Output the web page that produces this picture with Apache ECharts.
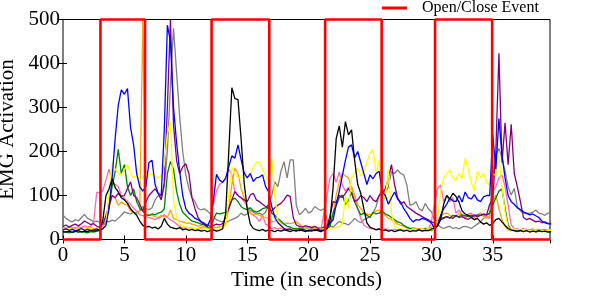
<!DOCTYPE html>
<html>
<head>
<meta charset="utf-8">
<script src="https://cdn.jsdelivr.net/npm/echarts@6/dist/echarts.min.js"></script>
<style>
html,body{margin:0;padding:0;background:#fff;}
#chart{width:598px;height:303px;}
</style>
</head>
<body>
<div id="chart"></div>
<script>
// ---- data (EMG activation sampled every 0.25 s, starting at 0 s) ----
const sampleStep = 0.25;
const xMax = 39.66;
const xTicks = [0, 5, 10, 15, 20, 25, 30, 35];
const yTicks = [0, 100, 200, 300, 400, 500];
const eventTimes = [3.05, 6.68, 12.1, 16.8, 21.35, 25.95, 30.3, 34.95];
const eventLevels = [0, 500];

const black = [18,17,19,16, 18,20,17,19, 18,21,19,20, 22,45,100,115, 138,118,108,95, 90,82,70,62, 55,42,32,28, 30,26,28,24, 30,48,35,28, 26,24,27,22,
 24,21,23,20, 22,19,21,18, 20,22,19,21, 24,60,200,345, 320,318,230,130, 70,35,25,22, 20,23,19,22, 20,18,21,19, 22,20,18,21, 19,22,20,18,
 21,19,22,20, 18,22,25,45, 120,230,258,210, 268,238,249,180, 125,105,70,38, 28,25,22,24, 20,22,19,21, 18,20,22,19, 21,18,20,19, 22,19,21,20,
 24,26,30,45, 80,100,92,105, 98,85,65,58, 55,50,45,48, 40,35,38,32, 36,45,48,40, 32,25,22,20, 19,21,18,20, 17,19,18,20, 18,19,17,18];
const blue = [22,24,21,23, 20,22,25,21, 23,20,22,24, 21,25,32,70, 140,230,305,340, 330,343,255,215, 150,120,110,120, 175,180,125,105, 100,250,487,450, 300,220,155,100,
 70,60,55,48, 45,40,35,30, 45,90,148,135, 130,140,165,190, 185,215,182,152, 140,150,132,140, 142,147,120,108, 75,50,38,32, 25,22,24,20, 22,20,23,21,
 19,22,20,23, 21,20,25,38, 45,80,110,145, 180,210,215,185, 200,175,150,125, 147,138,150,155, 108,100,80,95, 108,92,85,70, 60,48,40,45, 44,48,46,42,
 38,25,30,55, 70,80,94,88, 86,100,85,108, 95,92,102,90, 86,97,100,100, 238,160,275,192, 140,100,86,80, 72,68,63,60, 56,58,54,50, 42,38,36,35];
const yellow = [24,22,25,23, 21,24,22,26, 23,25,21,24, 25,28,35,110, 175,160,150,145, 160,170,150,140, 145,135,140,150, 148,150,145,140, 145,170,240,268, 90,50,35,30,
 28,26,27,24, 25,22,26,24, 23,25,22,26, 28,30,100,165, 150,140,140,148, 140,145,165,175, 175,160,145,131, 185,100,40,28, 25,22,24,21, 23,20,22,24,
 21,23,20,22, 24,22,26,23, 25,28,30,35, 100,70,140,150, 162,145,155,175, 196,205,150,180, 110,90,160,60, 30,26,24,22, 23,21,24,22, 20,23,22,24,
 22,25,45,110, 139,150,158,140, 135,150,138,185, 160,130,110,155, 140,150,130,124, 150,145,190,120, 63,28,22,24, 21,23,20,22, 19,21,22,20, 21,19,20,22];
const purple = [30,33,28,32, 35,31,36,42, 38,34,36,30, 28,35,55,78, 100,95,105,98, 100,116,131,100, 95,80,65,85, 100,108,115,105, 90,130,300,500, 260,180,150,165,
 172,150,95,70, 50,40,37,33, 30,32,35,33, 36,50,71,90, 109,100,95,90, 86,101,105,90, 86,80,75,70, 65,72,78,82, 90,101,98,50, 33,30,28,31,
 29,27,30,26, 25,28,30,55, 86,84,100,95, 105,116,105,86, 90,100,95,86, 100,90,86,100, 105,115,140,170, 125,95,80,86, 75,70,65,60, 56,52,48,45,
 40,38,42,45, 48,52,50,48, 55,50,52,48, 46,50,56,52, 55,58,56,80, 90,200,423,175, 265,170,262,150, 120,86,50,45, 48,44,40,42, 38,40,36,37];
const green = [16,18,15,17, 19,16,18,17, 15,18,17,19, 20,24,40,78, 120,155,205,150, 170,120,100,115, 86,71,65,56, 55,58,56,60, 62,70,150,177, 160,110,80,62,
 55,48,42,40, 38,35,33,28, 25,45,60,58, 60,62,70,90, 94,86,75,70, 68,72,65,62, 65,70,72,80, 60,55,48,42, 35,30,28,25, 24,26,23,25,
 22,24,21,23, 20,22,24,30, 60,78,95,101, 80,88,108,85, 70,56,60,55, 50,62,58,60, 65,58,55,50, 45,40,38,32, 28,25,24,22, 23,21,24,22,
 20,25,35,48, 50,52,48,55, 53,52,56,54, 52,55,53,56, 55,57,56,60, 78,95,110,115, 71,33,22,20, 18,20,19,21, 18,20,17,19, 20,18,19,17];
const gray = [55,48,43,40, 45,42,50,57, 48,45,40,42, 40,38,42,40, 44,42,48,55, 63,60,58,62, 60,65,75,70, 68,72,90,100, 95,120,200,350, 480,380,280,200,
 147,116,95,86, 71,67,70,65, 58,52,45,42, 40,38,42,45, 48,52,60,55, 58,67,62,58, 60,56,62,80, 100,131,120,155, 177,140,181,181, 78,56,62,71,
 60,64,75,70, 66,70,45,30, 28,35,41,38, 36,33,40,48, 42,38,45,48, 52,60,75,100, 116,105,120,155, 150,158,150,147, 124,78,80,86, 70,65,82,70,
 63,45,35,28, 25,28,30,25, 27,24,28,30, 28,25,30,35, 40,48,55,60, 140,192,207,185, 155,120,101,116, 75,65,60,58, 60,62,67,60, 58,55,60,62];
const pink = [28,25,30,27, 26,29,27,31, 28,30,40,108, 105,112,135,160, 130,125,120,100, 95,86,80,71, 65,56,54,52, 50,48,46,48, 52,56,50,45, 41,35,30,25,
 28,26,27,25, 24,27,25,30, 40,80,110,125, 130,139,160,147, 109,100,95,86, 75,60,55,50, 41,55,35,30, 25,27,24,26, 23,25,22,24, 26,23,25,22,
 24,22,25,23, 22,60,101,140, 150,130,154,124, 110,118,120,100, 71,48,33,28, 25,24,23,25, 22,24,23,21, 23,22,24,22, 21,23,22,24, 22,21,23,22,
 40,80,116,124, 86,100,86,95, 60,67,55,52, 58,60,50,56, 60,55,52,48, 109,120,140,147, 120,78,33,25, 24,22,25,23, 22,24,21,23, 22,23,21,22];
const orange = [26,24,27,25, 28,25,23,26, 24,27,25,23, 28,30,45,71, 100,95,78,85, 80,78,65,62, 58,65,500,56, 56,55,52,50, 55,52,50,67, 48,45,42,40,
 37,38,35,33, 30,32,28,25, 26,28,27,29, 30,35,70,124, 162,150,116,95, 75,60,56,58, 55,52,50,48, 40,42,45,38, 35,37,36,38, 40,35,30,28,
 27,29,26,28, 25,28,30,40, 60,101,131,150, 145,140,115,100, 80,70,60,58, 56,60,65,67, 60,55,48,45, 40,35,32,30, 26,25,27,24, 25,23,26,24,
 28,35,45,52, 58,60,55,50, 52,60,55,48, 55,56,45,50, 60,52,48,56, 86,101,70,45, 30,22,20,21, 19,20,18,21, 20,19,21,18, 19,20,18,19];

// ---- build chart ----
const FONT = 'Liberation Serif';
function pairs(arr) { return arr.map((v, i) => [i * sampleStep, v]); }
function eventSteps() {
  const pts = [[0, eventLevels[0]]];
  let lvl = 0;
  eventTimes.forEach(t => {
    pts.push([t, eventLevels[lvl]]);
    lvl = 1 - lvl;
    pts.push([t, eventLevels[lvl]]);
  });
  pts.push([xMax, eventLevels[lvl]]);
  return pts;
}
const emg = [
  ['gray', gray, '#808080'],
  ['pink', pink, '#ff69b4'],
  ['orange', orange, '#ffa500'],
  ['green', green, '#008000'],
  ['purple', purple, '#800080'],
  ['yellow', yellow, '#ffff00'],
  ['blue', blue, '#0000ff'],
  ['black', black, '#000000']
];
const series = emg.map(([name, arr, color]) => ({
  name: name, type: 'line', data: pairs(arr), showSymbol: false, symbol: 'none',
  lineStyle: { color: color, width: 1.3 }, itemStyle: { color: color },
  silent: true, animation: false, clip: true
}));
series.push({
  name: 'Open/Close Event', type: 'line', data: eventSteps(), symbol: 'none',
  lineStyle: { color: '#ff0000', width: 2.6 }, itemStyle: { color: '#ff0000' },
  animation: false, clip: false, z: 5
});

const labelStyle = { fontFamily: FONT, fontSize: 21, color: '#000' };
const chart = echarts.init(document.getElementById('chart'), null, { renderer: 'canvas' });
chart.setOption({
  animation: false,
  backgroundColor: '#fff',
  grid: { left: 63, right: 48, top: 19.5, bottom: 63.5, containLabel: false, outerBoundsMode: 'none',
          show: true, borderColor: '#000', borderWidth: 1, backgroundColor: 'transparent' },
  legend: {
    data: ['Open/Close Event'], left: 382, top: 0, padding: 0,
    icon: 'rect', itemWidth: 25, itemHeight: 3,
    textStyle: { fontFamily: FONT, fontSize: 16, color: '#000', padding: [0, 0, 0, 10] }
  },
  xAxis: [{
    type: 'value', min: 0, max: xMax, interval: 5, position: 'bottom',
    axisLine: { show: false }, splitLine: { show: false },
    axisTick: { show: true, inside: true, length: 4, lineStyle: { color: '#000' } },
    axisLabel: Object.assign({ margin: 5, showMaxLabel: false, formatter: v => xTicks.includes(v) ? String(v) : '' }, labelStyle),
    name: 'Time (in seconds)', nameLocation: 'middle', nameGap: 25,
    nameTextStyle: { fontFamily: FONT, fontSize: 21, color: '#000' }
  }, {
    type: 'value', min: 0, max: xMax, interval: 5, position: 'top',
    axisLine: { show: false }, splitLine: { show: false },
    axisTick: { show: true, inside: true, length: 4, lineStyle: { color: '#000' } },
    axisLabel: { show: false }
  }],
  yAxis: [{
    type: 'value', min: 0, max: 500, interval: 100, position: 'left',
    axisLine: { show: false }, splitLine: { show: false },
    axisTick: { show: true, inside: true, length: 4, lineStyle: { color: '#000' } },
    axisLabel: Object.assign({ margin: 3, formatter: v => yTicks.includes(v) ? String(v) : '' }, labelStyle),
    name: 'EMG Activation', nameLocation: 'middle', nameGap: 38,
    nameTextStyle: { fontFamily: FONT, fontSize: 21, color: '#000' }
  }, {
    type: 'value', min: 0, max: 500, interval: 100, position: 'right',
    axisLine: { show: false }, splitLine: { show: false },
    axisTick: { show: true, inside: true, length: 4, lineStyle: { color: '#000' } },
    axisLabel: { show: false }
  }],
  series: series
});
</script>
</body>
</html>
